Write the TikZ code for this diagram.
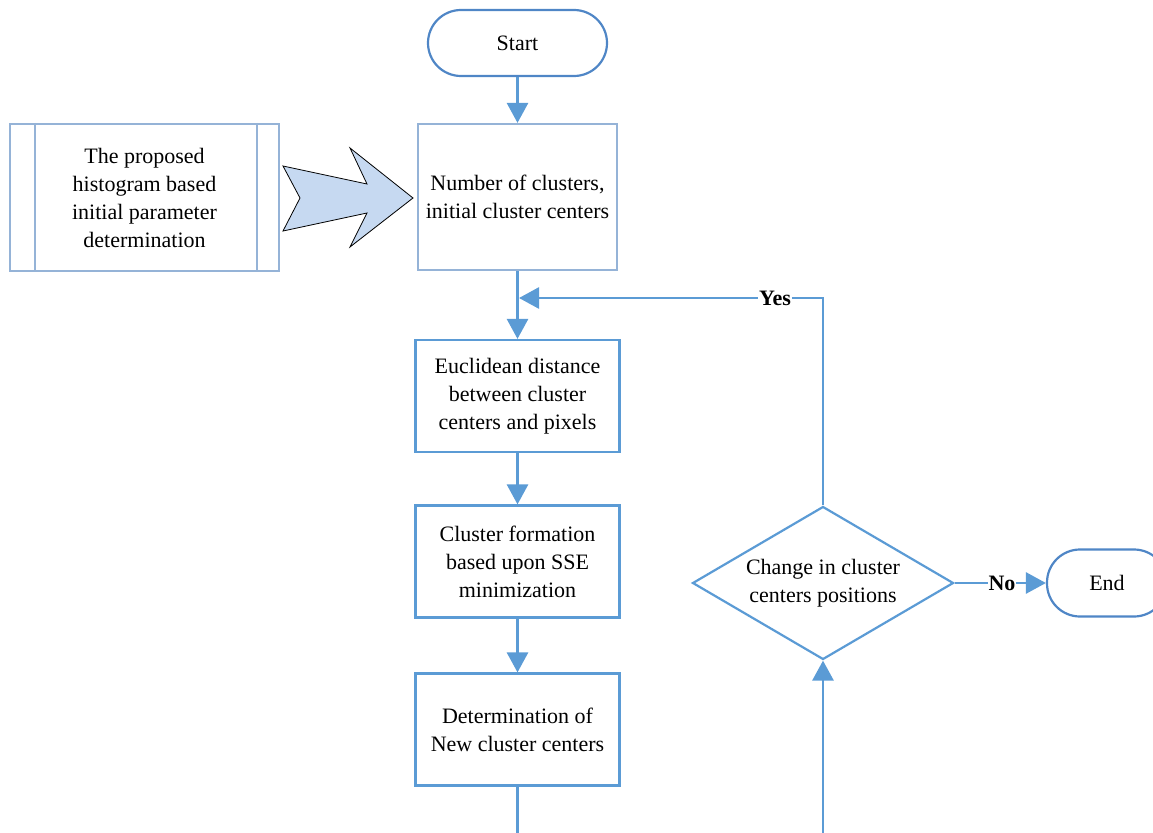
\documentclass[tikz,border=0pt]{standalone}
\usepackage{fontspec}
\setmainfont{Liberation Serif}
\usetikzlibrary{shapes.geometric,arrows.meta}
\definecolor{lineblue}{HTML}{5B9BD5}
\definecolor{lightblue}{HTML}{95B3D7}
\definecolor{termblue}{HTML}{4F86C6}
\definecolor{arrowfill}{HTML}{C6D9F1}
\begin{document}
\begin{tikzpicture}[x=1pt,y=-1pt,
  every node/.style={font=\fontsize{22}{28}\selectfont, align=center},
  term/.style={draw=termblue, line width=2.2pt, rounded corners=33pt, minimum height=66pt, inner sep=0pt},
  procbox/.style={draw=lineblue, line width=2.2pt, minimum width=204pt, minimum height=112pt, inner sep=0pt},
  lightbox/.style={draw=lightblue, line width=2.2pt, inner sep=0pt},
  conn/.style={draw=lineblue, line width=2.8pt, -{Triangle[length=20pt,width=21pt]}},
  plainconn/.style={draw=lineblue, line width=2.8pt},
  lab/.style={fill=white, inner sep=1pt, font=\fontsize{22}{28}\selectfont\bfseries}
]
\useasboundingbox (0,0) rectangle (1153,832);
\clip (0,0) rectangle (1153,832);

% nodes
\node[term, minimum width=179pt] (start) at (517.5,43) {Start};
\node[lightbox, minimum width=199pt, minimum height=146pt] (num) at (517.5,197) {Number of clusters,\\initial cluster centers};
\node[lightbox, minimum width=269pt, minimum height=147pt] (pp) at (144.5,197.5) {The proposed\\histogram based\\initial parameter\\determination};
\draw[lightblue, line width=2.2pt] ([xshift=26pt]pp.north west) -- ([xshift=26pt]pp.south west);
\draw[lightblue, line width=2.2pt] ([xshift=-23pt]pp.north east) -- ([xshift=-23pt]pp.south east);
\node[procbox] (euc) at (517.5,396) {Euclidean distance\\between cluster\\centers and pixels};
\node[procbox] (clu) at (517.5,561.5) {Cluster formation\\based upon SSE\\minimization};
\node[procbox] (det) at (517.5,729.5) {Determination of\\New cluster centers};
\node[diamond, draw=lineblue, line width=2.2pt, minimum width=261pt, minimum height=153pt, inner sep=0pt, aspect=1.7] (dia) at (823,583) {Change in cluster\\centers positions};
\node[term, minimum width=120pt, minimum height=67pt] (end) at (1107,583) {End};

% big block arrow
\draw[black, line width=0.8pt, fill=arrowfill] (283,166) -- (367,184) -- (350,148) -- (413,198) -- (350,247) -- (367,213) -- (283,231) -- (300,198) -- cycle;

% connectors
\draw[conn] (start) -- (num);
\draw[conn] (num) -- (euc);
\draw[conn] (euc) -- (clu);
\draw[conn] (clu) -- (det);
\coordinate (botL) at (517.5,845);
\draw[plainconn] (det.south) -- (botL);
\coordinate (botR) at (823,845);
\draw[conn] (botR) -- (dia.south);
\coordinate (yesend) at (519,298);
\draw[conn] (dia.north) |- (yesend);
\node[lab] (yes) at (775,298) {Yes};
\draw[conn] (dia.east) -- (end.west);
\node[lab] (no) at (1002,583) {No};
\end{tikzpicture}
\end{document}
